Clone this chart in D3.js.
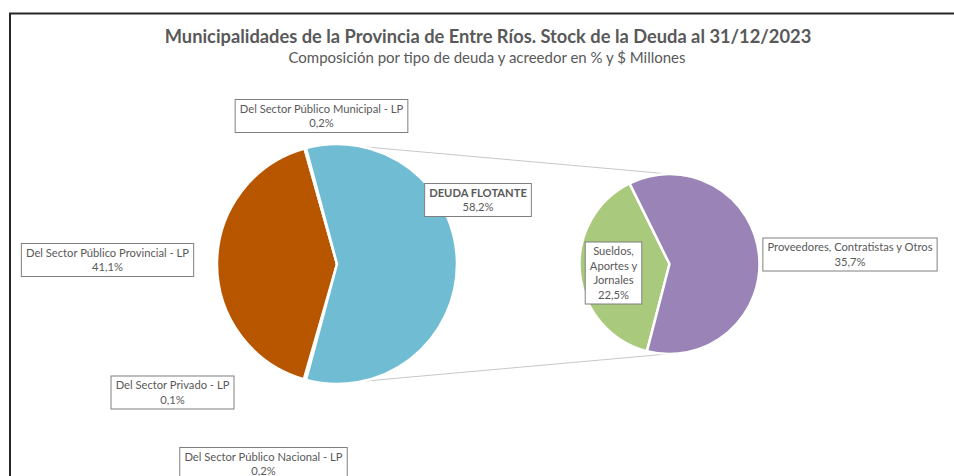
<!DOCTYPE html>
<html>
<head>
<meta charset="utf-8">
<script src="https://cdn.jsdelivr.net/npm/d3@7"></script>
<style>
  html, body { margin: 0; padding: 0; background: #fff; }
  svg { display: block; font-family: Lato, "Open Sans", sans-serif; }
</style>
</head>
<body>
<svg id="area" width="954" height="476"></svg>
<script>
// main pie (Excel order, clockwise)
const mainLabels = [
  'Del Sector Público Nacional - LP',
  'Del Sector Privado - LP',
  'Del Sector Público Provincial - LP',
  'Del Sector Público Municipal - LP',
  'DEUDA FLOTANTE'
];
const mainValues = [0.2, 0.1, 41.1, 0.2, 58.2];
const mainText = ['0,2%', '0,1%', '41,1%', '0,2%', '58,2%'];

// secondary pie: breakdown of DEUDA FLOTANTE
const subLabels = ['Sueldos, Aportes y Jornales', 'Proveedores, Contratistas y Otros'];
const subValues = [22.5, 35.7];
const subText = ['22,5%', '35,7%'];

const title = 'Municipalidades de la Provincia de Entre Ríos. Stock de la Deuda al 31/12/2023';
const subtitle = 'Composición por tipo de deuda y acreedor en % y $ Millones';

const mainColors = ['#a5a5a5', '#ffc000', '#b85600', '#4472c4', '#70bdd3'];
const subColors = ['#a9c97c', '#9a83b7'];

// label box centres and line breaks (layout only)
const mainBoxes = [
  { x: 263.5, y: 464, lines: ['Del Sector Público Nacional - LP'] },
  { x: 172.5, y: 392.5, lines: ['Del Sector Privado - LP'] },
  { x: 107.5, y: 260, lines: ['Del Sector Público Provincial - LP'] },
  { x: 321.5, y: 116, lines: ['Del Sector Público Municipal - LP'] },
  { x: 478, y: 200, lines: ['DEUDA FLOTANTE'], bold: true }
];
const subBoxes = [
  { x: 613.5, y: 273, lines: ['Sueldos,', 'Aportes y', 'Jornales'] },
  { x: 850, y: 254.5, lines: ['Proveedores, Contratistas y Otros'] }
];

const svg = d3.select('#area');
const grey = '#595959';

// chart frame (runs past the right and bottom edges)
svg.append('rect')
  .attr('x', 10).attr('y', 13.5)
  .attr('width', 960).attr('height', 480)
  .attr('fill', '#fff')
  .attr('stroke', '#262626')
  .attr('stroke-width', 2);

svg.append('text')
  .attr('x', 488).attr('y', 43)
  .attr('text-anchor', 'middle')
  .attr('font-size', 18.3)
  .attr('font-weight', 'bold')
  .attr('fill', grey)
  .text(title);

svg.append('text')
  .attr('x', 487).attr('y', 63)
  .attr('text-anchor', 'middle')
  .attr('font-size', 15)
  .attr('fill', grey)
  .text(subtitle);

const main = { cx: 337, cy: 264, r: 120 };
const sub = { cx: 669.5, cy: 264, r: 90 };
const rad = Math.PI / 180;

const total = d3.sum(mainValues);
const otherAngle = mainValues[4] / total * 2 * Math.PI;
const mainStart = Math.PI / 2 + otherAngle / 2;

const mainArcs = d3.pie().sort(null)
  .startAngle(mainStart).endAngle(mainStart + 2 * Math.PI)(mainValues);
const subArcs = d3.pie().sort(null)
  .startAngle(194.5 * rad).endAngle(194.5 * rad + 2 * Math.PI)(subValues);

// connector lines
const lineAng = 12 * rad;
const conn = [
  [main.cx + main.r * Math.sin(lineAng), main.cy - main.r * Math.cos(lineAng), sub.cx, sub.cy - sub.r],
  [main.cx + main.r * Math.sin(lineAng), main.cy + main.r * Math.cos(lineAng), sub.cx - 2, sub.cy + sub.r]
];
svg.append('g').selectAll('line')
  .data(conn)
  .join('line')
  .attr('x1', (d) => d[0]).attr('y1', (d) => d[1])
  .attr('x2', (d) => d[2]).attr('y2', (d) => d[3])
  .attr('stroke', '#c8c8c8')
  .attr('stroke-width', 1);

const arcMain = d3.arc().innerRadius(0).outerRadius(main.r);
const arcSub = d3.arc().innerRadius(0).outerRadius(sub.r);

svg.append('g')
  .attr('transform', `translate(${main.cx},${main.cy})`)
  .selectAll('path')
  .data(mainArcs)
  .join('path')
  .attr('d', arcMain)
  .attr('fill', (d, i) => mainColors[i])
  .attr('stroke', '#fff')
  .attr('stroke-width', 2.5)
  .attr('stroke-linejoin', 'round');

svg.append('g')
  .attr('transform', `translate(${sub.cx},${sub.cy})`)
  .selectAll('path')
  .data(subArcs)
  .join('path')
  .attr('d', arcSub)
  .attr('fill', (d, i) => subColors[i])
  .attr('stroke', '#fff')
  .attr('stroke-width', 2.5)
  .attr('stroke-linejoin', 'round');

// data label boxes
const fs = 11.2;
const lh = 14.5;
function drawLabel(box, pct) {
  const lines = box.lines.concat([pct]);
  const g = svg.append('g');
  const rect = g.append('rect');
  const h = lines.length * lh + 4;
  const top = box.y - h / 2;
  const t = g.append('text')
    .attr('text-anchor', 'middle')
    .attr('font-size', fs)
    .attr('fill', grey);
  lines.forEach((s, i) => {
    t.append('tspan')
      .attr('x', box.x)
      .attr('y', top + 2 + lh * (i + 0.5) + 4)
      .attr('font-weight', box.bold && i < lines.length - 1 ? 'bold' : null)
      .text(s);
  });
  const w = t.node().getBBox().width + 9;
  rect.attr('x', box.x - w / 2).attr('y', top)
    .attr('width', w).attr('height', h)
    .attr('fill', '#fff')
    .attr('stroke', '#7f7f7f')
    .attr('stroke-width', 1);
}

mainBoxes.forEach((b, i) => drawLabel(b, mainText[i]));
subBoxes.forEach((b, i) => drawLabel(b, subText[i]));
</script>
</body>
</html>
